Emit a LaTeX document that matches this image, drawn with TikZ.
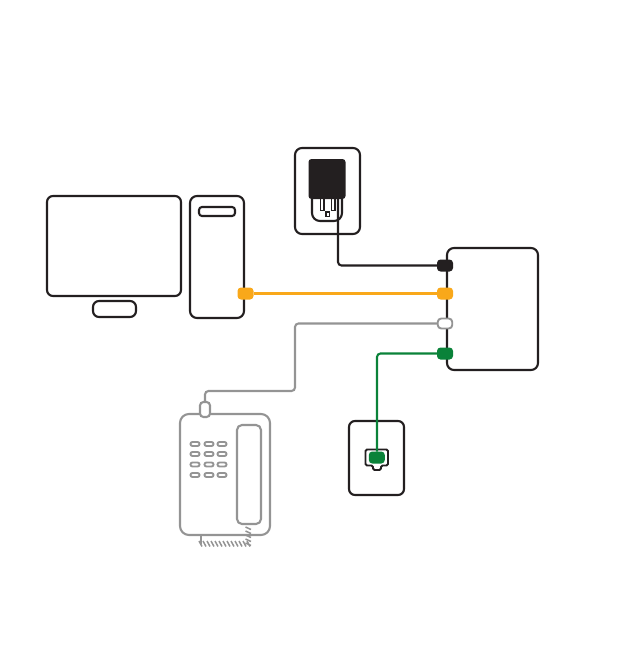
\documentclass[tikz,border=0pt]{standalone}
\usetikzlibrary{calc}
\definecolor{ink}{HTML}{231F20}
\definecolor{wireamber}{HTML}{F9A81A}
\definecolor{ash}{HTML}{949494}
\definecolor{leaf}{HTML}{0A8239}
\tikzset{
  x=1pt,y=-1pt,
  box/.style={draw=ink,line width=2.1pt,fill=white,rounded corners=#1,inner sep=0pt,outer sep=0pt},
  box/.default=6pt,
  greybox/.style={draw=ash,line width=2.1pt,fill=white,rounded corners=#1,inner sep=0pt,outer sep=0pt},
  greybox/.default=6pt,
  port/.style={rounded corners=3.5pt,minimum width=16pt,minimum height=12pt,inner sep=0pt,outer sep=0pt},
  wire/.style={line width=2.1pt,rounded corners=3.5pt},
  hatch/.style={draw=ash,line width=1.5pt},
  sized/.style n args={2}{minimum width=#1 pt,minimum height=#2 pt}
}
\begin{document}
\begin{tikzpicture}
\useasboundingbox (0,0) rectangle (619,658);
% computer
\node[box,sized={134}{100}] (monitor) at (114,246) {};
\node[box,sized={43}{16}] (stand) at (114.5,309) {};
\node[box=7pt,sized={54}{122}] (tower) at (217,257) {};
\node[box=3pt,sized={36}{9}] (slot) at (217,211.5) {};
% router
\node[box=7pt,sized={91}{122}] (router) at (492.5,309) {};
% power outlet
\node[box=7pt,sized={65}{86}] (outlet) at (327.5,191) {};
\node[box=8pt,sized={30}{36}] (socket) at (327,203) {};
\node[draw=ink,line width=1.5pt,fill=white,inner sep=0pt,sized={3.5}{13}] (prongL) at (322,204) {};
\node[draw=ink,line width=1.5pt,fill=white,inner sep=0pt,sized={3.5}{13}] (prongR) at (333,204) {};
\node[draw=ink,line width=1.5pt,fill=white,inner sep=0pt,sized={3.5}{4.5}] (ground) at (327.5,214) {};
\node[fill=ink,rounded corners=3pt,inner sep=0pt,sized={37}{40}] (adapter) at (327,179) {};
\coordinate (adapterout) at (338,199);
% wall jack
\node[box=6pt,sized={55}{74}] (plate) at (376.5,458) {};
\draw[ink,line width=1.9pt,fill=white,rounded corners=1.5pt] (365.5,449.5) -- (388,449.5) -- (388,465.5) -- (381,465.5) -- (381,470) -- (373,470) -- (373,465.5) -- (365.5,465.5) -- cycle;
\node[port,fill=leaf,sized={16}{12}] (plug) at (376.8,457.5) {};
% phone
\node[greybox=9pt,sized={90}{121}] (phone) at (225,474.5) {};
\node[greybox=5pt,sized={24}{99}] (handset) at (249,474.5) {};
\node[greybox=3.5pt,sized={10}{15}] (jackplug) at (205,409.5) {};
\foreach \kx in {195,209,222}{
  \foreach \ky in {444,454,464.5,475}{
    \draw[ash,line width=1.9pt,rounded corners=2pt] (\kx-4.5,\ky-2) rectangle (\kx+4.5,\ky+2);
  }
}
\foreach \hx in {199,203,...,247}{
  \draw[hatch] (\hx,541) -- (\hx+3,546.5);
}
\foreach \hy in {527,531,...,543}{
  \draw[hatch] (245.5,\hy) -- (251,\hy+2.5);
}
\coordinate (cordL) at (201,535);
\coordinate (cordLend) at (201,544);
\draw[ash,line width=1.9pt] (cordL) -- (cordLend);
% ports
\node[port,fill=ink] (pblack) at (445,265.5) {};
\node[port,fill=wireamber] (pamberR) at (445,293.5) {};
\node[port,draw=ash,line width=1.9pt,fill=white,minimum width=14.5pt,minimum height=10pt] (pwhite) at (445,323.5) {};
\node[port,fill=leaf] (pgreen) at (445,353.5) {};
\node[port,fill=wireamber] (pamberL) at (245.5,293.5) {};
% connectors
\draw[wire,ink] (adapterout) |- (pblack.west);
\draw[draw=wireamber,line width=2.1pt] (pamberL.east) -- (pamberR.west);
\draw[wire,ash] (pwhite.west) -- (295,323.5) -- (295,391) -- (205,391) -- (jackplug.north);
\draw[wire,leaf] (pgreen.west) -- (377,353.5) -- (plug.north -| 377,0);
\end{tikzpicture}
\end{document}
